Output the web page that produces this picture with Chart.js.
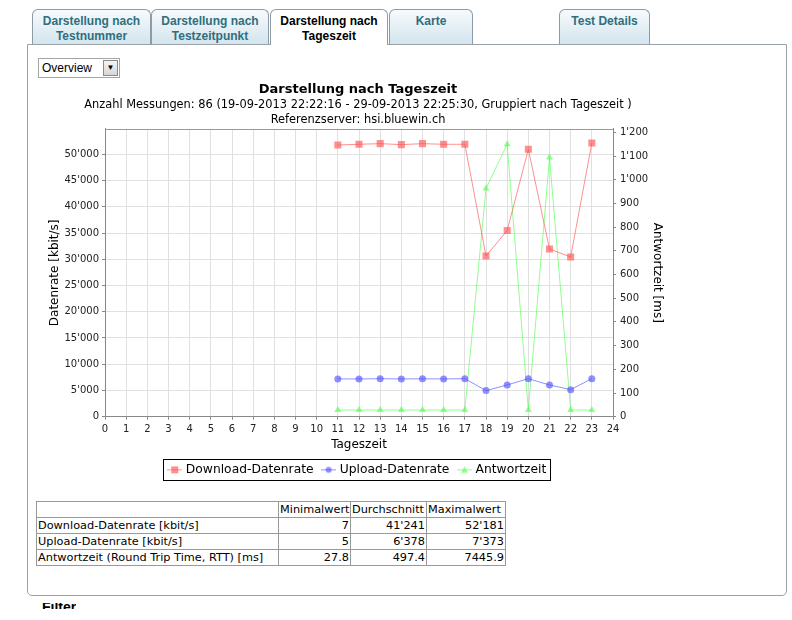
<!DOCTYPE html>
<html>
<head>
<meta charset="utf-8">
<script src="https://cdn.jsdelivr.net/npm/chart.js@4"></script>
<style>
  body { margin: 0; background: #fff; width: 792px; height: 620px; overflow: hidden; position: relative; font-family: "Liberation Sans", Arial, sans-serif; }
  .tab { position: absolute; top: 9px; border: 1px solid #8d9ba6; border-bottom: none; border-radius: 6px 6px 0 0;
         background: linear-gradient(#f7fafc, #d3e5ee); color: #2f6f7d; font-weight: bold; font-size: 12px; line-height: 15px; text-align: center; padding-top: 4px; box-sizing: border-box; height: 35px; }
  .tab.active { background: #fff; color: #000; height: 36px; z-index: 2; }
  #panel { position: absolute; left: 27px; top: 44px; width: 760px; height: 552px; border: 1px solid #9aa2a8; border-radius: 0 0 5px 5px; box-sizing: border-box; }
  #select { position: absolute; left: 38px; top: 58px; width: 82px; height: 20px; border: 1px solid #a5a5a5; box-sizing: border-box; background: #fff; font-size: 12px; line-height: 18px; padding-left: 3px; }
  #select .btn { position: absolute; right: 1px; top: 1px; width: 15px; height: 16px; background: linear-gradient(#f4f4f4, #d6d6d6); border: 1px solid #8a8a8a; box-sizing: border-box; font-size: 8px; line-height: 14px; text-align: center; }
  #wrap { position: absolute; left: 38px; top: 76px; width: 640px; height: 410px; }
  table { position: absolute; left: 36px; top: 501px; border-collapse: collapse; border: 1px solid #000; font-family: "DejaVu Sans", Verdana, sans-serif; font-size: 11.3px; table-layout: fixed; width: 469px; }
  td { border: 1px solid #999; padding: 0 1px; height: 15px; line-height: 14px; white-space: nowrap; overflow: hidden; }
  td.n { text-align: right; }
  #filter { position: absolute; left: 42px; top: 603px; height: 6px; overflow: hidden; font-weight: bold; font-size: 14px; line-height: 14px; }
  #filter span { display: block; margin-top: -3px; }
</style>
</head>
<body>
<div class="tab" style="left:32px;width:119px">Darstellung nach<br>Testnummer</div>
<div class="tab" style="left:151px;width:118px">Darstellung nach<br>Testzeitpunkt</div>
<div class="tab active" style="left:270px;width:118px">Darstellung nach<br>Tageszeit</div>
<div class="tab" style="left:389px;width:84px">Karte</div>
<div class="tab" style="left:559px;width:91px">Test Details</div>
<div id="panel"></div>
<div id="select">Overview<div class="btn">&#9660;</div></div>
<div id="wrap"><canvas id="myChart" width="640" height="410"></canvas></div>
<table>
  <colgroup><col style="width:242px"><col style="width:72px"><col style="width:76px"><col style="width:79px"></colgroup>
  <tr><td></td><td>Minimalwert</td><td>Durchschnitt</td><td>Maximalwert</td></tr>
  <tr><td>Download-Datenrate [kbit/s]</td><td class="n">7</td><td class="n">41'241</td><td class="n">52'181</td></tr>
  <tr><td>Upload-Datenrate [kbit/s]</td><td class="n">5</td><td class="n">6'378</td><td class="n">7'373</td></tr>
  <tr><td>Antwortzeit (Round Trip Time, RTT) [ms]</td><td class="n">27.8</td><td class="n">497.4</td><td class="n">7445.9</td></tr>
</table>
<div id="filter"><span>Filter</span></div>

<script>
// values per hour of day
var hours = [11, 12, 13, 14, 15, 16, 17, 18, 19, 20, 21, 22, 23];
var download = [51780, 51920, 52040, 51850, 52040, 51920, 51920, 30630, 35480, 50960, 31970, 30440, 52181];
var upload = [7200, 7200, 7250, 7200, 7220, 7200, 7250, 4970, 6050, 7250, 6050, 5160, 7250];
var rtt = [28, 28, 28, 28, 28, 28, 28, 963, 1150, 28, 1094, 28, 28];
var seriesNames = ['Download-Datenrate', 'Upload-Datenrate', 'Antwortzeit'];
var seriesColors = ['rgba(255,85,85,0.65)', 'rgba(85,85,255,0.65)', 'rgba(85,255,85,0.65)'];
var seriesShapes = ['rect', 'circle', 'triangle'];

// axis ticks
var rateTicks = [0, 5000, 10000, 15000, 20000, 25000, 30000, 35000, 40000, 45000, 50000];
var rttTicks = [0, 100, 200, 300, 400, 500, 600, 700, 800, 900, 1000, 1100, 1200];

Chart.defaults.font.family = '"DejaVu Sans", sans-serif';
Chart.defaults.color = '#000';

function fmt(v) {
    return String(Math.round(v)).replace(/\B(?=(\d{3})+(?!\d))/g, "'");
}

function points(values) {
    return hours.map(function (h, i) { return { x: h, y: values[i] }; });
}

// little line+marker images for the legend
function legendIcon(i) {
    var c = document.createElement('canvas');
    c.width = 15; c.height = 9;
    var g = c.getContext('2d');
    g.strokeStyle = seriesColors[i];
    g.lineWidth = 1;
    g.beginPath(); g.moveTo(0, 4.5); g.lineTo(15, 4.5); g.stroke();
    g.fillStyle = seriesColors[i];
    if (i == 0) g.fillRect(4, 1, 7, 7);
    else if (i == 1) { g.beginPath(); g.arc(7.5, 4.5, 3, 0, Math.PI * 2); g.fill(); }
    else { g.beginPath(); g.moveTo(7.5, 1); g.lineTo(11, 7.5); g.lineTo(4, 7.5); g.closePath(); g.fill(); }
    return c;
}
var icons = [legendIcon(0), legendIcon(1), legendIcon(2)];

var frame = {
    id: 'frame',
    beforeDatasetsDraw: function (chart) {
        var a = chart.chartArea, ctx = chart.ctx;
        ctx.save();
        ctx.strokeStyle = '#999';
        ctx.lineWidth = 1;
        ctx.beginPath();
        ctx.moveTo(a.left, Math.round(a.top) + 0.5);
        ctx.lineTo(a.right, Math.round(a.top) + 0.5);
        ctx.stroke();
        ctx.restore();
    },
    afterDraw: function (chart) {
        var boxes = chart.legend.legendHitBoxes;
        if (!boxes || !boxes.length) return;
        var first = boxes[0], last = boxes[boxes.length - 1];
        var cy = first.top + first.height / 2;
        var ctx = chart.ctx;
        ctx.save();
        ctx.strokeStyle = '#000';
        ctx.lineWidth = 1;
        ctx.strokeRect(Math.round(first.left - 7) + 0.5, Math.round(cy - 10.5) + 0.5, Math.round(last.left + last.width - first.left + 10), 21);
        ctx.restore();
    }
};

var ctx = document.getElementById('myChart').getContext('2d');
window.myChart = new Chart(ctx, {
    type: 'line',
    data: {
        datasets: [download, upload, rtt].map(function (vals, i) {
            return {
                label: seriesNames[i],
                data: points(vals),
                yAxisID: i == 2 ? 'y1' : 'y',
                borderColor: seriesColors[i],
                backgroundColor: seriesColors[i],
                borderWidth: 1,
                pointStyle: seriesShapes[i],
                pointRadius: i == 0 ? 5 : (i == 1 ? 3.5 : 4),
                pointBorderWidth: 0,
                pointBackgroundColor: seriesColors[i],
                tension: 0,
                fill: false
            };
        })
    },
    options: {
        responsive: false,
        animation: false,
        layout: { padding: 0 },
        plugins: {
            title: {
                display: true,
                text: 'Darstellung nach Tageszeit',
                font: { size: 13, weight: 'bold', lineHeight: 1.2 },
                padding: { top: 5.5, bottom: 0 }
            },
            subtitle: {
                display: true,
                text: ['Anzahl Messungen: 86 (19-09-2013 22:22:16 - 29-09-2013 22:25:30, Gruppiert nach Tageszeit )',
                       'Referenzserver: hsi.bluewin.ch'],
                font: { size: 11.4, lineHeight: 1.32 },
                padding: { top: 0.5, bottom: 1.3 }
            },
            legend: {
                position: 'bottom',
                labels: {
                    usePointStyle: true,
                    pointStyleWidth: 10,
                    padding: 10,
                    font: { size: 12.3 },
                    color: '#000',
                    generateLabels: function (chart) {
                        var items = Chart.defaults.plugins.legend.labels.generateLabels(chart);
                        items.forEach(function (it, i) { it.pointStyle = icons[i]; });
                        return items;
                    }
                }
            },
            tooltip: { enabled: false }
        },
        scales: {
            x: {
                type: 'linear',
                min: 0,
                max: 24,
                ticks: { stepSize: 1, maxTicksLimit: 30, font: { size: 10 }, color: '#222', padding: 4, maxRotation: 0 },
                grid: { color: '#e0e0e0', borderDash: [3, 3], tickLength: 3, tickColor: '#888', tickBorderDash: [] },
                border: { color: '#888' },
                title: { display: true, text: 'Tageszeit', font: { size: 12 }, padding: { top: 0, bottom: 2 } },
                afterFit: function (scale) { scale.height = 37; }
            },
            y: {
                position: 'left',
                min: 0,
                max: 54833,
                ticks: { font: { size: 10 }, color: '#222', padding: 3, callback: fmt },
                grid: { color: '#e0e0e0', borderDash: [3, 3], tickLength: 3, tickColor: '#888', tickBorderDash: [] },
                border: { color: '#888' },
                title: { display: true, text: 'Datenrate [kbit/s]', font: { size: 12 }, padding: { top: 10, bottom: 0 } },
                afterBuildTicks: function (scale) { scale.ticks = rateTicks.map(function (v) { return { value: v }; }); },
                afterFit: function (scale) { scale.width = 67; }
            },
            y1: {
                position: 'right',
                min: 0,
                max: 1214,
                ticks: { font: { size: 10 }, color: '#222', padding: 4, callback: fmt },
                grid: { drawOnChartArea: false, tickLength: 3, tickColor: '#888' },
                border: { color: '#888' },
                title: { display: true, text: 'Antwortzeit [ms]', font: { size: 12 }, padding: { top: 14, bottom: 0 } },
                afterBuildTicks: function (scale) { scale.ticks = rttTicks.map(function (v) { return { value: v }; }); },
                afterFit: function (scale) { scale.width = 65; }
            }
        }
    },
    plugins: [frame]
});
</script>
</body>
</html>
